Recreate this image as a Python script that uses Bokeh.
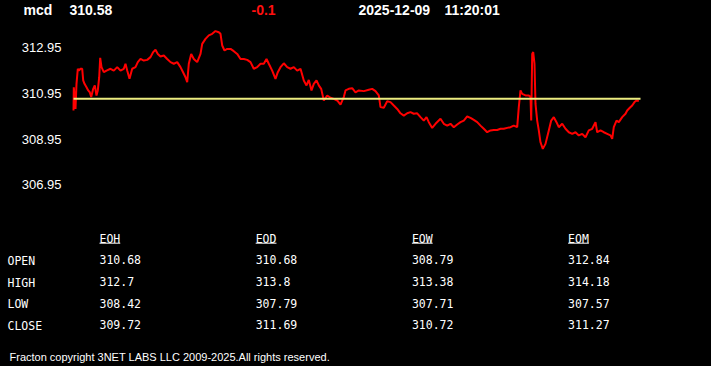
from bokeh.plotting import figure
from bokeh.models import Range1d
from bokeh.core.properties import value
from bokeh.embed import file_html
from bokeh.resources import INLINE
from jinja2 import Template

# ---------------- data ----------------
symbol = "mcd"
last_price = 310.58
change = -0.1
date_str = "2025-12-09"
time_str = "11:20:01"
ref_price = 310.68          # session open (yellow reference line)

y_ticks = [306.95, 308.95, 310.95, 312.95]

# elapsed intraday time (chart units) and traded price
times = [0, 0.3, 2.0, 3.0, 4.3, 5.3, 7.0, 8.7, 9.7, 11.0,
         13.0, 14.7, 16.3, 17.7, 19.7, 21.3, 23.0, 24.3, 25.7, 26.7,
         28.0, 30.3, 33.0, 37.0, 40.3, 43.7, 47.0, 50.3, 52.0, 53.7,
         56.0, 58.7, 62.0, 64.3, 67.0, 70.3, 73.7, 77.0, 79.7, 82.0,
         84.3, 87.0, 90.3, 93.7, 97.0, 100.3, 103.7, 107.0, 110.3, 112.0,
         113.7, 115.3, 117.7, 120.3, 123.7, 127.0, 128.7, 132.0, 135.3, 138.7,
         142.0, 145.3, 147.0, 148.7, 151.0, 153.7, 157.0, 160.3, 163.7, 167.0,
         170.3, 173.7, 177.0, 180.3, 183.7, 187.0, 190.3, 193.0, 195.3, 198.7,
         202.0, 204.3, 207.0, 210.3, 213.7, 217.0, 220.3, 223.7, 227.0, 230.3,
         233.0, 235.3, 238.0, 240.3, 243.0, 245.3, 247.7, 250.3, 253.7, 257.0,
         260.3, 263.7, 267.0,
         270.3, 272.0, 275.3, 278.7, 282.0, 285.3, 290.3, 295.3, 298.7, 302.0,
         305.3, 307.0, 310.3, 313.7, 317.0, 320.3, 323.7, 327.0, 330.3, 333.7,
         337.0, 340.3, 343.7, 347.0, 350.3, 353.0, 355.3, 358.7, 362.0, 367.0,
         370.3, 373.7, 377.0, 380.3, 383.7, 387.0, 390.3, 393.7, 397.0, 400.3,
         403.7, 407.0, 410.3, 413.7, 417.0, 420.3, 423.7, 427.0, 430.3, 433.7,
         437.0, 440.3, 443.7, 445.3, 447.0, 448.7, 452.0, 455.3, 457.0, 457.7,
         458.7, 459.7, 461.0, 462.0, 463.7, 465.3, 467.0, 469.3, 472.0, 475.3,
         477.7, 480.3, 483.0, 485.3, 488.7, 492.0, 495.3, 498.7, 502.0, 505.3,
         508.7, 512.0, 515.3, 518.7, 522.0, 523.7, 527.0, 530.3, 533.7, 537.0,
         538.7, 540.3, 543.0, 545.3, 548.7, 552.0, 553.7, 556.3, 558.7, 561.0,
         563.0, 565.3]

prices = [310.16, 311.18, 310.23, 311.33, 311.99, 311.91, 311.99, 311.99, 311.48, 311.33,
          311.18, 311.04, 310.96, 310.75, 311.11, 311.26, 310.82, 311.04, 311.62, 312.47,
          312.06, 311.84, 311.91, 311.99, 311.91, 312.06, 311.91, 311.99, 312.21, 311.91,
          311.55, 311.99, 312.06, 312.28, 312.42, 312.35, 312.38, 312.50, 312.72, 312.82,
          312.64, 312.53, 312.57, 312.42, 312.28, 312.21, 312.28, 312.06, 311.77, 311.62,
          311.40, 312.21, 312.64, 312.42, 312.28, 312.64, 313.08, 313.30, 313.45, 313.52,
          313.64, 313.59, 313.52, 313.01, 312.79, 312.86, 312.86, 312.76, 312.64, 312.42,
          312.42, 312.38, 312.28, 311.99, 312.06, 312.21, 312.21, 312.42, 312.21, 311.91,
          311.55, 311.84, 312.06, 312.23, 312.06, 311.99, 312.06, 311.91, 311.99, 311.48,
          311.26, 311.50, 311.04, 311.33, 311.48, 311.26, 311.11, 310.60, 310.82, 310.72,
          310.67, 310.60, 310.42,
          310.75, 311.04, 311.11, 311.14, 310.96, 311.04, 311.01, 311.07, 311.11, 311.01,
          310.82, 310.31, 310.28, 310.57, 310.53, 310.38, 310.23, 310.04, 309.94, 310.04,
          310.09, 310.02, 310.04, 309.87, 309.72, 309.87, 309.65, 309.40, 309.58, 309.80,
          309.58, 309.50, 309.58, 309.43, 309.55, 309.65, 309.72, 309.90, 309.84, 309.75,
          309.65, 309.50, 309.36, 309.21, 309.29, 309.31, 309.31, 309.36, 309.36, 309.40,
          309.43, 309.50, 309.43, 310.31, 311.04, 310.89, 310.82, 310.82, 310.75, 309.72,
          312.64, 312.72, 312.21, 310.45, 309.72, 309.29, 308.77, 308.48, 308.70, 309.29,
          309.72, 309.87, 309.65, 309.43, 309.58, 309.36, 309.21, 309.14, 309.21, 309.07,
          309.14, 308.99, 309.29, 309.36, 309.65, 309.21, 309.29, 309.21, 309.14, 309.07,
          308.92, 309.43, 309.72, 309.65, 309.87, 310.02, 310.16, 310.28, 310.38, 310.53,
          310.60, 310.58]

row_names = ["OPEN", "HIGH", "LOW", "CLOSE"]
periods = ["EOH", "EOD", "EOW", "EOM"]
eoh = [310.68, 312.7, 308.42, 309.72]
eod = [310.68, 313.8, 307.79, 311.69]
eow = [308.79, 313.38, 307.71, 310.72]
eom = [312.84, 314.18, 307.57, 311.27]

footer = "Fracton copyright 3NET LABS LLC 2009-2025.All rights reserved."

# ---------------- figure ----------------
W, H = 711, 366
SANS = value("Liberation Sans")
MONO = value("DejaVu Sans Mono")

# main ranges: chart time (x) and price (y); the plot area spans x 73..640, y 20..220
chart_x = (0, 567)
p = figure(width=W, height=H,
           x_range=Range1d(-73, 638), y_range=Range1d(298.948, 314.980),
           output_backend="svg", toolbar_location=None,
           background_fill_color="black", border_fill_color="black",
           outline_line_color=None, min_border=0,
           x_axis_location=None, y_axis_location=None)
p.grid.visible = False
# page-pixel ranges for the surrounding texts
p.extra_x_ranges = {"px": Range1d(0, W)}
p.extra_y_ranges = {"px": Range1d(H, 0)}

# header
head_text = [symbol, f"{last_price:.2f}", f"{change:g}", date_str, time_str]
head_x = [23, 69, 251, 358, 444]
head_col = ["white", "white", "#ff1010", "white", "white"]
p.text(x=head_x, y=[9.7] * len(head_text), text=head_text, text_color=head_col,
       text_font=SANS, text_font_style="bold", text_font_size="14px",
       text_baseline="middle", text_align="left",
       x_range_name="px", y_range_name="px")

# price axis labels (positioned on the price scale)
p.text(x=[61] * len(y_ticks), y=y_ticks, text=[f"{t:.2f}" for t in y_ticks],
       text_color="white", text_font=SANS, text_font_size="13px",
       text_baseline="middle", text_align="right", x_range_name="px",
       y_offset=1)

# price line and reference line
p.line(times, prices, line_color="#ff0000", line_width=2)
p.line(x=list(chart_x), y=[ref_price, ref_price], line_color="#ecec80", line_width=2)

# OHLC table
col_x0, col_dx = 99, 156.2
row_y0, row_dy = 259, 21.8
header_y = 238.7
underline_y = 242.7
char_w = 6.92

cols = [eoh, eod, eow, eom]
tx, ty, tt = [], [], []
for j, col in enumerate(cols):
    for i, v in enumerate(col):
        tx.append(col_x0 + j * col_dx)
        ty.append(row_y0 + i * row_dy)
        tt.append(str(v))
p.text(x=tx, y=ty, text=tt, text_color="white", text_font=MONO,
       text_font_size="11.5px", text_baseline="middle", text_align="left",
       x_range_name="px", y_range_name="px")

p.text(x=[7] * len(row_names), y=[row_y0 + i * row_dy + 1.3 for i in range(len(row_names))],
       text=row_names, text_color="white", text_font=MONO,
       text_font_size="11.5px", text_baseline="middle", text_align="left",
       x_range_name="px", y_range_name="px")

hx = [col_x0 + j * col_dx for j in range(len(periods))]
p.text(x=hx, y=[header_y] * len(periods), text=periods, text_color="white",
       text_font=MONO, text_font_size="11.5px", text_baseline="middle",
       text_align="left", x_range_name="px", y_range_name="px")
p.segment(x0=hx, y0=[underline_y] * len(periods),
          x1=[x + len(s) * char_w for x, s in zip(hx, periods)],
          y1=[underline_y] * len(periods), line_color="white", line_width=1,
          x_range_name="px", y_range_name="px")

# footer
p.text(x=[9], y=[356.3], text=[footer], text_color="white", text_font=SANS,
       text_font_size="11px", text_baseline="middle", text_align="left",
       x_range_name="px", y_range_name="px")

page = Template("""{% extends base %}
{% block preamble %}<style>html, body { margin: 0 !important; padding: 0 !important; background: #000; overflow: hidden; }</style>{% endblock %}""")

open("out.html", "w").write(file_html(p, INLINE, template=page))
